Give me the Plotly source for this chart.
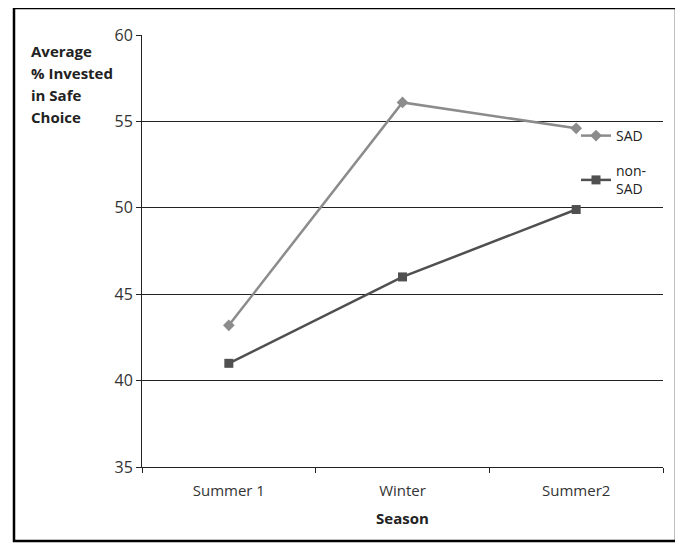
import plotly.graph_objects as go

seasons = ["Summer 1", "Winter", "Summer2"]
sad = [43.2, 56.1, 54.6]
non_sad = [41.0, 46.0, 49.9]
ytitle_lines = ["Average", "% Invested", "in Safe", "Choice"]

OFF = 8  # page body margin
W, H = 683 - OFF, 549 - OFF
# plot area in page pixels
L, R, T, B = 142, 663, 35, 467
pw, ph = R - L, B - T

def px_x(x):
    return (x - L) / pw

def px_y(y):
    return (B - y) / ph

font = "Open Sans"

fig = go.Figure()
fig.add_trace(go.Scatter(
    x=seasons, y=sad, name="SAD", mode="lines+markers", legendgroup="a",
    line=dict(color="#8c8c8c", width=2.5),
    marker=dict(symbol="diamond", size=9, color="#8c8c8c"),
))
fig.add_trace(go.Scatter(
    x=seasons, y=non_sad, name="non-<br>SAD", mode="lines+markers", legendgroup="b",
    line=dict(color="#505050", width=2.5),
    marker=dict(symbol="square", size=9, color="#505050"),
))

annots = []
for i, t in enumerate(ytitle_lines):
    annots.append(dict(
        text="<b>%s</b>" % t, xref="paper", yref="paper",
        x=px_x(29), y=px_y(51 + 22 * i), xanchor="left", yanchor="middle",
        align="left", showarrow=False, font=dict(size=15, color="#222"),
    ))

fig.update_layout(
    width=W, height=H,
    margin=dict(l=L - OFF, r=683 - R, t=T - OFF, b=549 - B),
    paper_bgcolor="white", plot_bgcolor="white",
    font=dict(family=font, size=14, color="#222"),
    showlegend=True,
    legend=dict(x=px_x(576), y=px_y(120), xanchor="left", yanchor="top",
                bgcolor="rgba(0,0,0,0)", font=dict(size=14, color="#222"),
                tracegroupgap=14, itemwidth=30, traceorder="grouped"),
    xaxis=dict(
        range=[-0.5, 2.5], showgrid=False, showline=True, linecolor="#222",
        linewidth=1, ticks="outside", tickson="boundaries", ticklen=5,
        tickcolor="#222", tickfont=dict(size=15, color="#333"),
        ticklabelstandoff=10,
        title=dict(text="<b>Season</b>", font=dict(size=15, color="#222"), standoff=14),
        fixedrange=True,
    ),
    yaxis=dict(
        range=[35, 60], tickvals=[35, 40, 45, 50, 55, 60], showgrid=True,
        gridcolor="#222", gridwidth=1, showline=True, linecolor="#222",
        linewidth=1, ticks="outside", ticklen=5, tickcolor="#222",
        tickfont=dict(size=16, color="#333"), zeroline=False, fixedrange=True,
    ),
    annotations=annots,
    shapes=[dict(
        type="rect", xref="paper", yref="paper",
        x0=px_x(14), x1=px_x(676), y0=px_y(541), y1=px_y(8),
        line=dict(color="black", width=2.5), fillcolor="rgba(0,0,0,0)", layer="above",
    )],
)

fig.write_html("out.html")
